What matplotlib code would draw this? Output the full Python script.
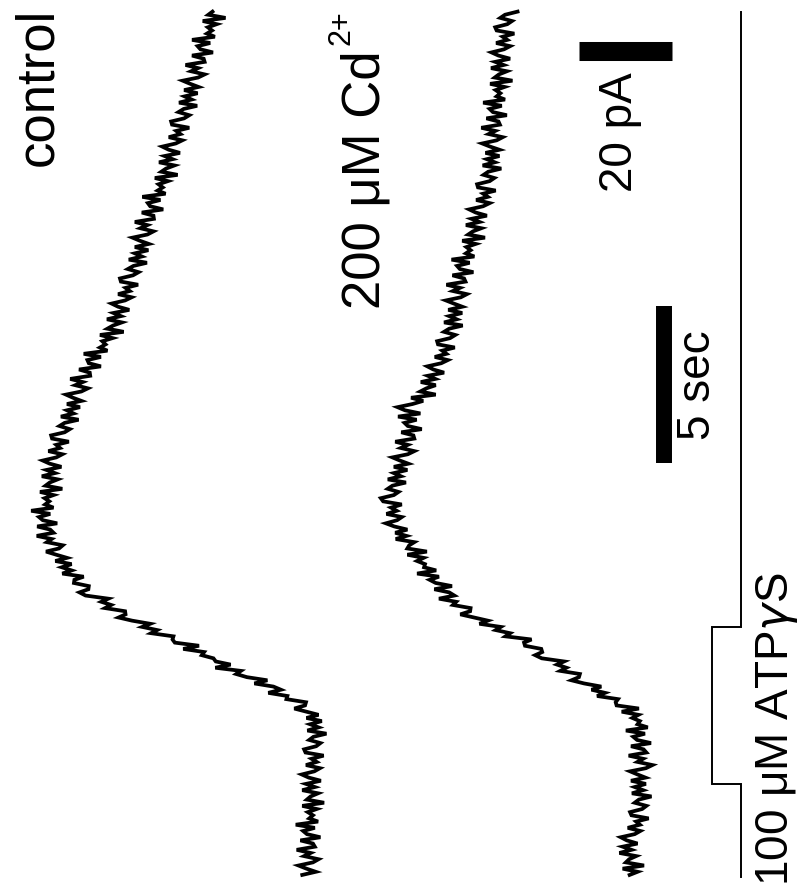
import numpy as np
import matplotlib
matplotlib.use("Agg")
import matplotlib.pyplot as plt

plt.rcParams['font.family'] = ['Liberation Sans', 'DejaVu Sans']

# sampling interval of the traces (s)
DT = 0.1

# control trace, current deflection in pA (every 0.1 s)
control_pA = [
    1.7, -1.2, 0.8, 2.5, -0.6, -1.8, 1.3, -0.1, 2.9, -1.0,
    -0.6, 2.1, -2.2, 0.7, 1.5, -1.0, 3.1, -1.7, 0.2, -0.6,
    0.5, -1.4, 1.7, -3.0, 0.7, -0.1, -1.7, 1.7, -1.0, 0.9,
    -2.3, 0.3, 1.8, -0.9, -2.1, 0.9, -1.4, -0.3, -2.9, 1.0,
    1.3, -1.3, -2.2, 0.2, -0.7, -3.5, 0.6, -1.8, 0.0, -2.5,
    0.8, -1.8, 0.8, 3.4, 1.1, 0.9, 5.1, 4.9, 9.0, 6.3,
    7.9, 12.0, 9.2, 13.6, 15.9, 14.9, 20.4, 17.1, 20.3, 20.8,
    23.3, 22.8, 27.3, 23.9, 29.1, 29.6, 29.4, 34.2, 32.9, 36.1,
    34.4, 38.3, 41.2, 39.7, 39.8, 44.1, 42.8, 44.9, 43.4, 48.3,
    49.6, 47.7, 47.6, 50.8, 50.7, 48.7, 53.3, 51.3, 53.4, 51.3,
    54.8, 52.3, 54.6, 56.8, 54.0, 53.2, 56.6, 55.6, 58.8, 55.2,
    55.9, 58.7, 54.4, 57.5, 58.3, 55.9, 60.0, 55.2, 57.0, 56.1,
    57.1, 55.2, 58.1, 53.3, 56.9, 56.0, 54.3, 57.7, 54.9, 56.7,
    53.5, 56.0, 57.5, 54.6, 53.3, 56.3, 53.8, 54.6, 51.9, 55.5,
    55.7, 52.8, 51.7, 53.9, 52.8, 49.8, 53.6, 50.9, 52.3, 49.5,
    52.3, 49.2, 51.0, 52.5, 49.2, 47.8, 50.5, 48.9, 51.6, 47.3,
    47.4, 49.7, 45.0, 47.6, 47.9, 45.0, 48.7, 43.6, 45.2, 44.0,
    44.7, 42.5, 45.2, 40.1, 43.6, 42.4, 40.5, 43.7, 40.7, 42.3,
    38.9, 41.3, 42.7, 39.8, 38.4, 41.3, 38.8, 39.7, 37.0, 40.7,
    40.9, 38.1, 36.9, 39.2, 38.0, 35.1, 39.0, 36.2, 37.7, 34.8,
    37.7, 34.7, 36.6, 38.2, 35.0, 33.7, 36.5, 35.0, 37.7, 33.6,
    33.7, 36.2, 31.6, 34.4, 34.9, 32.2, 36.1, 31.1, 32.8, 31.7,
    32.6, 30.6, 33.4, 28.5, 32.0, 31.0, 29.2, 32.5, 29.6, 31.3,
    28.0, 30.4, 31.8, 28.9, 27.5, 30.4, 27.9, 28.8, 26.0, 29.7,
    29.9, 27.1, 26.0, 28.3, 27.2, 24.3, 28.2, 25.5, 27.0, 24.2,
    27.1, 24.0, 25.8, 27.4, 24.1, 22.7, 25.6, 24.1, 26.8, 22.7,
    22.9, 25.4, 20.9, 23.6, 24.2, 21.5, 25.4, 20.5, 22.2, 21.1,
    22.0, 20.1, 23.1, 18.2, 21.9, 21.0,
]

# 200 uM Cd2+ trace, current deflection in pA (every 0.1 s)
cadmium_pA = [
    1.6, -0.1, 3.1, -1.5, 2.4, 1.7, 0.2, 3.8, 1.2, 3.1,
    -0.1, 2.2, 3.5, 0.5, -0.7, 2.0, -0.6, 0.2, -2.5, 1.2,
    1.5, -1.1, -2.0, 0.5, -0.4, -3.1, 1.1, -1.3, 0.5, -1.9,
    1.3, -1.8, -0.1, 1.5, -1.9, -3.3, -0.1, -1.3, 1.8, -2.0,
    -1.4, 1.3, -3.0, 0.0, 0.8, -1.7, 2.4, -2.3, -0.1, -0.6,
    1.0, -0.3, 3.3, -0.4, 4.4, 4.6, 4.1, 8.6, 6.9, 9.8,
    7.7, 11.4, 14.1, 12.5, 12.3, 16.5, 15.2, 17.2, 15.7, 20.5,
    21.9, 20.4, 20.6, 24.1, 24.3, 22.7, 28.3, 27.3, 30.4, 29.3,
    33.9, 32.1, 35.1, 38.0, 35.9, 35.8, 39.6, 38.9, 42.6, 39.3,
    40.4, 43.6, 39.8, 43.3, 44.6, 42.6, 47.3, 43.2, 45.8, 45.6,
    47.3, 45.9, 49.4, 45.2, 49.4, 49.0, 47.9, 51.9, 49.6, 52.0,
    49.4, 52.2, 54.0, 51.6, 50.6, 53.9, 51.7, 52.9, 50.6, 54.6,
    55.1, 52.3, 51.3, 53.6, 52.6, 49.7, 53.6, 50.8, 52.3, 49.4,
    52.3, 49.2, 51.0, 52.6, 49.3, 47.9, 50.8, 49.3, 52.0, 47.9,
    48.1, 50.7, 46.3, 49.3, 50.0, 47.4, 51.4, 46.6, 49.9, 51.5,
    48.3, 46.0, 48.6, 43.3, 46.6, 45.3, 43.3, 46.5, 43.4, 45.0,
    41.5, 43.8, 45.1, 42.1, 40.7, 43.5, 41.0, 41.9, 39.2, 42.8,
    43.0, 40.2, 39.1, 41.5, 40.4, 37.5, 41.5, 38.8, 40.4, 37.6,
    40.6, 37.6, 39.4, 41.1, 37.9, 36.6, 39.6, 38.1, 41.0, 36.9,
    37.2, 39.7, 35.2, 38.1, 38.7, 36.0, 39.9, 35.0, 36.8, 35.8,
    36.7, 34.7, 37.6, 32.7, 36.3, 35.3, 33.5, 36.8, 33.9, 35.6,
    32.3, 34.7, 36.1, 33.1, 31.7, 34.6, 32.1, 33.1, 30.4, 34.2,
    34.4, 31.7, 30.7, 33.0, 32.0, 29.2, 33.2, 30.6, 32.3, 29.6,
    32.6, 29.6, 31.6, 33.3, 30.2, 28.9, 31.9, 30.5, 33.5, 29.5,
    29.8, 32.4, 28.0, 31.0, 31.7, 29.1, 33.1, 28.4, 30.2, 29.4,
    30.4, 28.5, 31.6, 26.8, 30.6, 29.7, 28.0, 31.4, 28.7, 30.5,
    27.3, 29.8, 31.3, 28.6, 27.3, 30.3, 27.9, 28.9, 26.4, 30.2,
    30.5, 27.9, 26.9, 29.4, 28.4, 25.7,
]

# ATPgammaS application (s)
atp_on, atp_off = 2.9, 7.9
label_control = "control"
label_cd = "200 \u03bcM Cd"
label_cd_sup = "2+"
label_atp = "100 \u03bcM ATP$\\gamma$S"
scale_pA = 20
scale_sec = 5

t = np.arange(len(control_pA)) * DT
t_cd = np.arange(len(cadmium_pA)) * DT

# layout (axis units: pA across, s up; figure is rotated)
CD_OFFSET = -70.3
FS = 33

fig = plt.figure(figsize=(8.04, 8.90), dpi=100)
ax = fig.add_axes([0, 0, 1, 1])
ax.set_xlim(66.7, -106.2)
ax.set_ylim(-0.48, 27.87)
ax.axis('off')

ax.plot(control_pA, t, color='black', lw=2.7, solid_joinstyle='miter')
ax.plot(np.array(cadmium_pA) + CD_OFFSET, t_cd, color='black', lw=2.7,
        solid_joinstyle='miter')

# application marker
x_base, x_step = -92.7, -86.5
t_end = t[-1]
ax.plot([x_base, x_base, x_step, x_step, x_base, x_base],
        [-0.06, atp_on, atp_on, atp_off, atp_off, t_end],
        color='black', lw=1.4, solid_joinstyle='miter')

# scale bars
ax.plot([-57.8, -57.8 - scale_pA], [26.24, 26.24], color='black', lw=13.7,
        solid_capstyle='butt')
ax.plot([-76.1, -76.1], [13.12, 13.12 + scale_sec], color='black', lw=11.5,
        solid_capstyle='butt')

ax.text(58.5, 25.1, label_control, rotation=90, ha='center', va='center', fontsize=38)
ax.text(-11.8, 22.15, label_cd, rotation=90, ha='center', va='center', fontsize=38)
ax.text(-6.7, 27.0, label_cd_sup, rotation=90, ha='center', va='center', fontsize=22)
ax.text(-66.7, 23.66, f"{scale_pA} pA", rotation=90, ha='center', va='center', fontsize=FS)
ax.text(-83.4, 15.6, f"{scale_sec} sec", rotation=90, ha='center', va='center', fontsize=FS)
ax.text(-100.4, 4.65, label_atp, rotation=90, ha='center', va='center', fontsize=FS)

fig.savefig("out.png", dpi=100, facecolor='white')
